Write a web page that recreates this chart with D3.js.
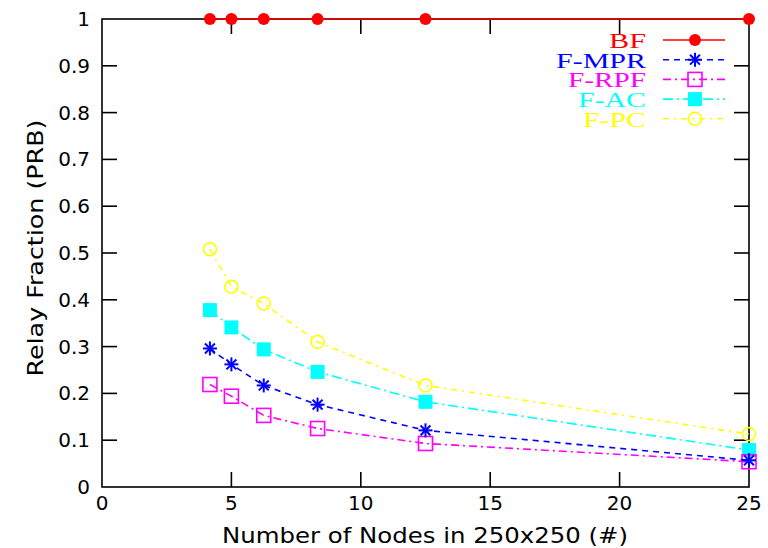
<html>
<script src="https://d3js.org/d3.v7.min.js"></script>
<style>
body { margin: 0; background: #fff; }
svg { display: block; }
</style>
<body>
<svg width="768" height="548"></svg>
<script>
// node counts on the x axis
var nodes = [4.17, 5, 6.25, 8.33, 12.5, 25];

var bf    = [1, 1, 1, 1, 1, 1];
var fMpr  = [0.296, 0.262, 0.217, 0.176, 0.121, 0.057];
var fRpf  = [0.219, 0.194, 0.153, 0.125, 0.093, 0.054];
var fAc   = [0.378, 0.341, 0.294, 0.246, 0.182, 0.079];
var fPc   = [0.508, 0.428, 0.392, 0.310, 0.217, 0.113];

var seriesNames = ["BF", "F-MPR", "F-RPF", "F-AC", "F-PC"];
var xTicks = [0, 5, 10, 15, 20, 25];
var yTicks = [0, 0.1, 0.2, 0.3, 0.4, 0.5, 0.6, 0.7, 0.8, 0.9, 1];

var series = [
    { name: seriesNames[0], values: bf,   color: "#ff0000", dash: null,       marker: "dot",    w: 37 },
    { name: seriesNames[1], values: fMpr, color: "#0000ff", dash: "6,5",      marker: "star",   w: 90 },
    { name: seriesNames[2], values: fRpf, color: "#ff00ff", dash: "8,4,2,4",  marker: "box",    w: 78 },
    { name: seriesNames[3], values: fAc,  color: "#00ffff", dash: "10,4,2,4", marker: "fbox",   w: 68 },
    { name: seriesNames[4], values: fPc,  color: "#ffff00", dash: "6,5,2,5",  marker: "circle", w: 63 }
];

var svg = d3.select("svg");
var pLeft = 102, pRight = 749, pTop = 19, pBottom = 487;

var x = d3.scaleLinear().domain([0, 25]).range([pLeft, pRight]);
var y = d3.scaleLinear().domain([0, 1]).range([pBottom, pTop]);

// ticks, mirrored on all four sides
var tickLen = 15;
var g = svg.append("g");
yTicks.forEach(function(t) {
    if (t == 0 || t == 1) return;
    g.append("line").attr("x1", pLeft).attr("x2", pLeft + tickLen).attr("y1", y(t)).attr("y2", y(t));
    g.append("line").attr("x1", pRight).attr("x2", pRight - tickLen).attr("y1", y(t)).attr("y2", y(t));
});
xTicks.forEach(function(t) {
    if (t == 0 || t == 25) return;
    g.append("line").attr("x1", x(t)).attr("x2", x(t)).attr("y1", pBottom).attr("y2", pBottom - tickLen);
    g.append("line").attr("x1", x(t)).attr("x2", x(t)).attr("y1", pTop).attr("y2", pTop + tickLen);
});
g.selectAll("line").attr("stroke", "#000").attr("stroke-width", 1.6);

svg.append("rect")
    .attr("x", pLeft).attr("y", pTop)
    .attr("width", pRight - pLeft).attr("height", pBottom - pTop)
    .attr("fill", "none").attr("stroke", "#000").attr("stroke-width", 1.6);

// tick labels
svg.selectAll(".ylab").data(yTicks).enter().append("text")
    .attr("x", 90).attr("y", function(d) { return y(d) + 7; })
    .attr("text-anchor", "end")
    .style("font", "20px 'DejaVu Sans'")
    .text(function(d) { return d3.format("")(d); });

svg.selectAll(".xlab").data(xTicks).enter().append("text")
    .attr("x", function(d) { return x(d); }).attr("y", 510)
    .attr("text-anchor", "middle")
    .style("font", "20px 'DejaVu Sans'")
    .text(function(d) { return d; });

// axis titles
svg.append("text")
    .attr("x", 425).attr("y", 543)
    .attr("text-anchor", "middle")
    .attr("textLength", 406).attr("lengthAdjust", "spacingAndGlyphs")
    .style("font", "21px 'DejaVu Sans'")
    .text("Number of Nodes in 250x250 (#)");

svg.append("text")
    .attr("transform", "translate(43,248) rotate(-90)")
    .attr("text-anchor", "middle")
    .attr("textLength", 257).attr("lengthAdjust", "spacingAndGlyphs")
    .style("font", "21px 'DejaVu Sans'")
    .text("Relay Fraction (PRB)");

function drawMarker(sel, m, color, cx, cy) {
    if (m == "dot") {
        sel.append("circle").attr("cx", cx).attr("cy", cy).attr("r", 6).attr("fill", color);
    } else if (m == "circle") {
        sel.append("circle").attr("cx", cx).attr("cy", cy).attr("r", 6.5)
            .attr("fill", "none").attr("stroke", color).attr("stroke-width", 1.6);
    } else if (m == "box") {
        sel.append("rect").attr("x", cx - 7).attr("y", cy - 7).attr("width", 14).attr("height", 14)
            .attr("fill", "none").attr("stroke", color).attr("stroke-width", 1.6);
    } else if (m == "fbox") {
        sel.append("rect").attr("x", cx - 7).attr("y", cy - 7).attr("width", 14).attr("height", 14)
            .attr("fill", color);
    } else if (m == "star") {
        var r = 7;
        [0, 45, 90, 135].forEach(function(a) {
            var dx = r * Math.cos(a * Math.PI / 180), dy = r * Math.sin(a * Math.PI / 180);
            sel.append("line").attr("x1", cx - dx).attr("y1", cy - dy).attr("x2", cx + dx).attr("y2", cy + dy)
                .attr("stroke", color).attr("stroke-width", 2);
        });
    }
}

var line = d3.line()
    .x(function(d, i) { return x(nodes[i]); })
    .y(function(d) { return y(d); });

// draw from last to first so BF sits on top like the original
series.slice().reverse().forEach(function(s) {
    svg.append("path")
        .attr("d", line(s.values))
        .attr("fill", "none")
        .attr("stroke", s.color)
        .attr("stroke-width", 1.6)
        .attr("stroke-dasharray", s.dash);
    var mg = svg.append("g");
    s.values.forEach(function(v, i) {
        drawMarker(mg, s.marker, s.color, x(nodes[i]), y(v));
    });
});

// legend
series.forEach(function(s, i) {
    var ly = 40 + i * 19.7;
    svg.append("text")
        .attr("x", 646).attr("y", ly + 8)
        .attr("text-anchor", "end")
        .attr("fill", s.color)
        .attr("textLength", s.w).attr("lengthAdjust", "spacingAndGlyphs")
        .style("font", "22px 'Liberation Serif'")
        .text(s.name);
    svg.append("line")
        .attr("x1", 663).attr("x2", 725).attr("y1", ly).attr("y2", ly)
        .attr("stroke", s.color).attr("stroke-width", 1.6)
        .attr("stroke-dasharray", s.dash);
    drawMarker(svg, s.marker, s.color, 695, ly);
});
</script>
</body>
</html>
